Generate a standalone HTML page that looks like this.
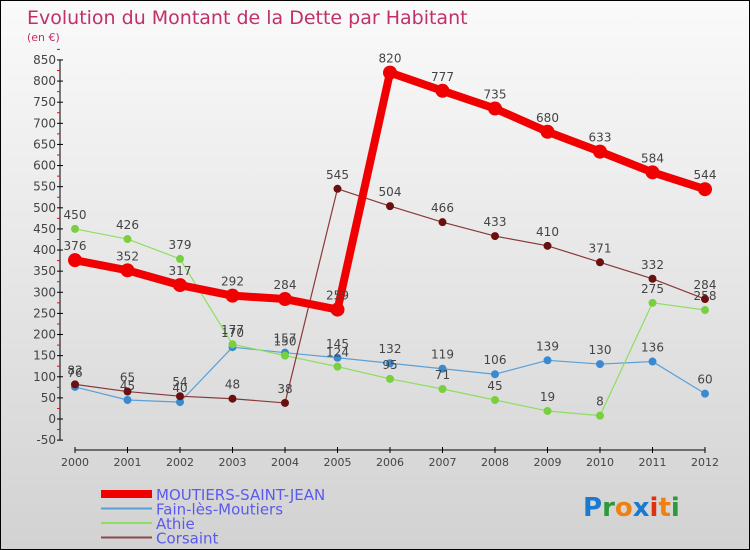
<!DOCTYPE html>
<html><head><meta charset="utf-8">
<style>
body{margin:0}
#c{width:748px;height:548px;border:1px solid #000;background:linear-gradient(#fafafa,#d2d2d2);position:relative;overflow:hidden;font-family:"DejaVu Sans","Liberation Sans",sans-serif}
</style></head><body>
<div id="c">
<svg id="s" width="748" height="548"></svg>
</div>
<script>
const years=[2000,2001,2002,2003,2004,2005,2006,2007,2008,2009,2010,2011,2012];
const msj=[376,352,317,292,284,259,820,777,735,680,633,584,544];
const fain=[76,45,40,170,157,145,132,119,106,139,130,136,60];
const athie=[450,426,379,177,150,124,95,71,45,19,8,275,258];
const corsaint=[82,65,54,48,38,545,504,466,433,410,371,332,284];
const yTicks=[-50,0,50,100,150,200,250,300,350,400,450,500,550,600,650,700,750,800,850];
const NS="http://www.w3.org/2000/svg";
const svg=document.getElementById('s');
const X=i=>74+i*52.5, Y=v=>418-v*0.4224;
function mk(t,a,p){const e=document.createElementNS(NS,t);for(const k in a)e.setAttribute(k,a[k]);(p||svg).appendChild(e);return e;}
let t=mk('text',{x:26,y:23,fill:'#c0306a','font-size':19});t.textContent='Evolution du Montant de la Dette par Habitant';

t=mk('text',{x:26,y:40,fill:'#c0306a','font-size':11});t.textContent='(en €)';

const ax=mk('g',{});
mk('line',{x1:59,x2:59,y1:Y(850),y2:Y(-50),stroke:'#000'},ax);
yTicks.forEach(v=>{mk('line',{x1:56,x2:62,y1:Y(v),y2:Y(v),stroke:'#000'},ax);
mk('line',{x1:56,x2:59,y1:Y(v+25),y2:Y(v+25),stroke:'#f00'},ax);
const l=mk('text',{x:55,y:Y(v)+4,'text-anchor':'end','font-size':12,fill:'#444'},ax);l.textContent=v;});
const xa=mk('g',{});
mk('line',{x1:X(0),x2:X(12),y1:449,y2:449,stroke:'#000'},xa);
years.forEach((y,i)=>{mk('line',{x1:X(i),x2:X(i),y1:446,y2:452,stroke:'#000'},xa);
const l=mk('text',{x:X(i),y:465,'text-anchor':'middle','font-size':11,fill:'#444'},xa);l.textContent=y;});
function series(d,color,dot,w,r,name){const g=mk('g',{});
mk('polyline',{points:d.map((v,i)=>X(i)+','+Y(v)).join(' '),fill:'none',stroke:color,'stroke-width':w,'stroke-linejoin':'round'},g);
d.forEach((v,i)=>{const c=mk('circle',{cx:X(i),cy:Y(v),r:r,fill:dot},g);
const l=mk('text',{x:X(i),y:Y(v)-10,'text-anchor':'middle','font-size':12,fill:'#444'},g);l.textContent=v;});}
series(fain,'#5aa0d8','#3a8ad0',1.2,4,'fain-series');
series(athie,'#8ede60','#78d040',1.2,4,'athie-series');
series(corsaint,'#8a3838','#6a1010',1.2,4,'corsaint-series');
series(msj,'#f00000','#f00000',8,7,'moutiers-series');
const lg=[['MOUTIERS-SAINT-JEAN','#f00000',8],['Fain-lès-Moutiers','#5aa0d8',2],['Athie','#8ede60',2],['Corsaint','#8a4a4a',2]];
lg.forEach((e,i)=>{const g=mk('g',{});
const y=493+i*14.5;mk('line',{x1:100,x2:151,y1:y,y2:y,stroke:e[1],'stroke-width':e[2]},g);
const l=mk('text',{x:155,y:y+6,'font-size':15,fill:'#5a5aee'},g);l.textContent=e[0];});
const p=mk('text',{x:582,y:515,'font-size':26,'font-weight':'bold'});
[['P','#1a7ad0'],['r','#2a9a3a'],['o','#f08010'],['x','#1a7ad0'],['i','#e03010'],['t','#f08010'],['i','#2a9a3a']].forEach(c=>{const s=mk('tspan',{fill:c[1]},p);s.textContent=c[0];});
</script>
</body></html>
